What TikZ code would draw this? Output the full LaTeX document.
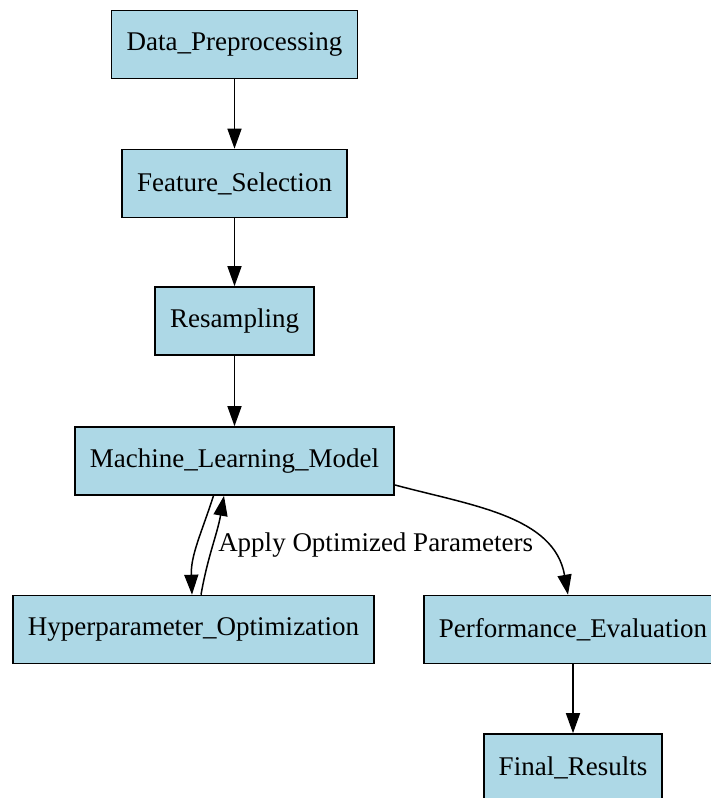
\documentclass[tikz,border=0pt]{standalone}
\usepackage{fontspec}
\setmainfont{Liberation Serif}
\usepackage{xcolor}
\definecolor{boxfill}{HTML}{ADD8E6}
\usepackage{tikz}
\usetikzlibrary{arrows.meta}

\begin{document}
\begin{tikzpicture}[x=1pt, y=1pt,
    procbox/.style={draw=black, fill=boxfill, line width=1.6pt, minimum height=68pt,
                    inner xsep=15pt, font=\fontsize{27}{32}\selectfont},
    arr/.style={-{Triangle[length=20pt,width=14pt]}, line width=1.5pt},
    lbl/.style={font=\fontsize{27}{32}\selectfont, inner sep=0pt}]
  \useasboundingbox (0,0) rectangle (710,-798);

  \node[procbox] (dp)  at (234.5,-44.5)  {Data\_Preprocessing};
  \node[procbox] (fs)  at (234.5,-183.5) {Feature\_Selection};
  \node[procbox] (rs)  at (234.5,-321)   {Resampling};
  \node[procbox] (ml)  at (234.5,-461)   {Machine\_Learning\_Model};
  \node[procbox] (hpo) at (193.5,-629.5) {Hyperparameter\_Optimization};
  \node[procbox] (pe)  at (573,-629.5)   {Performance\_Evaluation};
  \node[procbox] (fr)  at (573,-768)     {Final\_Results};

  \draw[arr] (dp) -- (fs);
  \draw[arr] (fs) -- (rs);
  \draw[arr] (rs) -- (ml);
  \draw[arr] ([xshift=-21pt]ml.south) to[out=-108, in=92] ([xshift=-1.5pt]hpo.north);
  \draw[arr] ([xshift=7.5pt]hpo.north) to[out=80, in=-100]
    node[lbl, right=5pt, pos=0.5] {Apply Optimized Parameters} ([xshift=-10.5pt]ml.south);
  \draw[arr] ([yshift=-24pt]ml.east) to[out=-15, in=100] ([xshift=-5pt]pe.north);
  \draw[arr] (pe) -- (fr);
\end{tikzpicture}
\end{document}
